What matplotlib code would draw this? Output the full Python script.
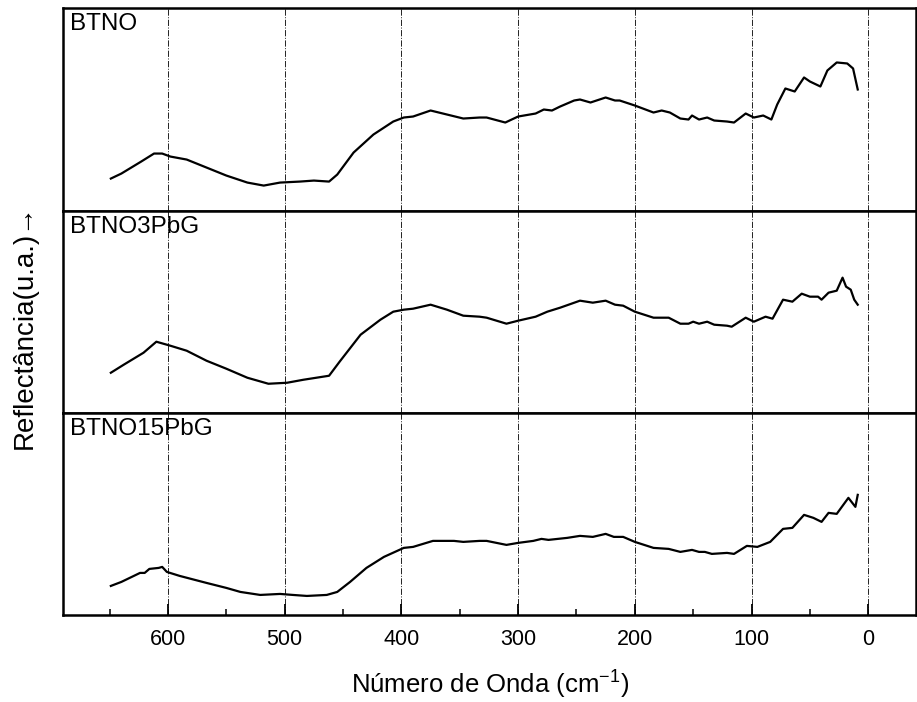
# far-IR reflectance spectra of BTNO samples, stacked panels
import numpy as np
import matplotlib
matplotlib.use("Agg")
import matplotlib.pyplot as plt
from matplotlib.ticker import MultipleLocator

plt.rcParams['font.family'] = ['Liberation Sans', 'DejaVu Sans']
plt.rcParams['mathtext.default'] = 'regular'

sample_names = ['BTNO', 'BTNO3PbG', 'BTNO15PbG']

# wavenumber (cm-1) and reflectance (arb. units)
btno_x = [649, 640, 623, 612, 605, 598, 584, 567, 550, 532, 518, 504, 487, 475, 462, 455,
          441, 424, 407, 398, 390, 375, 361, 347, 333, 327, 311, 300, 285, 278, 271, 264,
          252, 247, 238, 225, 217, 213, 200, 184, 177, 170, 161, 154, 151, 145, 138, 132,
          121, 115, 105, 98, 90, 83, 78, 71, 63, 55, 50, 41, 35, 27, 18, 13, 9]
btno_y = [32, 37, 49, 57, 57, 54, 51, 43, 35, 28, 25, 28, 29, 30, 29, 36,
          58, 76, 89, 93, 94, 100, 96, 92, 93, 93, 88, 94, 97, 101, 100, 104,
          110, 111, 108, 113, 110, 110, 105, 98, 100, 98, 92, 91, 95, 91, 93, 90,
          89, 88, 97, 93, 95, 91, 106, 122, 119, 133, 129, 124, 140, 148, 147, 142, 121]

btno3_x = [649, 638, 621, 610, 598, 584, 567, 550, 532, 514, 498, 484, 473, 462, 453, 435,
           418, 407, 398, 390, 375, 361, 347, 333, 327, 310, 300, 285, 275, 264, 247, 236,
           225, 217, 210, 200, 184, 171, 161, 154, 150, 145, 138, 132, 121, 117, 105, 98,
           88, 82, 73, 65, 57, 50, 43, 40, 34, 27, 22, 19, 15, 12, 9]
btno3_y = [40, 48, 60, 71, 67, 62, 52, 44, 35, 29, 30, 33, 35, 37, 51, 78,
           93, 101, 103, 104, 108, 103, 97, 96, 95, 89, 92, 96, 101, 105, 112, 110,
           112, 108, 107, 101, 95, 95, 89, 89, 91, 89, 91, 88, 87, 86, 95, 91,
           96, 94, 113, 111, 119, 116, 116, 113, 120, 122, 135, 126, 123, 113, 108]

btno15_x = [649, 640, 624, 620, 616, 608, 605, 601, 590, 567, 550, 538, 521, 504, 493, 481,
            464, 455, 444, 430, 415, 398, 390, 373, 355, 347, 333, 327, 310, 300, 287, 280,
            274, 258, 247, 236, 225, 218, 210, 200, 184, 171, 161, 151, 145, 140, 134, 121,
            115, 104, 95, 84, 73, 65, 55, 47, 40, 34, 27, 17, 11, 9]
btno15_y = [29, 33, 42, 42, 46, 47, 48, 43, 39, 32, 27, 23, 20, 21, 20, 19,
            20, 23, 33, 47, 58, 67, 68, 74, 74, 73, 74, 74, 70, 72, 74, 76,
            75, 77, 79, 78, 81, 78, 78, 73, 67, 66, 63, 65, 63, 63, 61, 62,
            61, 69, 68, 73, 86, 87, 100, 97, 93, 102, 101, 117, 108, 120]

spectra = [(btno_x, btno_y), (btno3_x, btno3_y), (btno15_x, btno15_y)]

fig = plt.figure(figsize=(9.17, 7.02), dpi=100)
gs = fig.add_gridspec(3, 1, left=0.0687, right=0.999, top=0.988, bottom=0.124, hspace=0)
axes = [fig.add_subplot(gs[i]) for i in range(3)]

for i, ax in enumerate(axes):
    x, y = spectra[i]
    ax.plot(x, y, color='black', lw=1.6)
    ax.set_xlim(690, -41)
    ax.set_ylim(0, 202)
    ax.xaxis.set_major_locator(MultipleLocator(100))
    ax.xaxis.set_minor_locator(MultipleLocator(50))
    ax.grid(axis='x', which='major', linestyle='-.', color='#222222', lw=0.7)
    ax.set_yticks([])
    for sp in ax.spines.values():
        sp.set_linewidth(1.8)
    ax.text(0.008, 0.975, sample_names[i], transform=ax.transAxes, ha='left', va='top',
            fontsize=17.5)
    if i < 2:
        ax.tick_params(axis='x', which='both', bottom=False, labelbottom=False)
    else:
        ax.tick_params(axis='x', which='major', direction='in', length=8, width=1.3,
                       labelsize=15.5, pad=10)
        ax.tick_params(axis='x', which='minor', direction='in', length=4, width=1.1)
        ax.set_xlabel('Número de Onda (cm$^{-1}$)', fontsize=18.5, labelpad=14)

fig.text(0.027, 0.535, 'Reflectância(u.a.)→', rotation=90, ha='center', va='center',
         fontsize=20)

plt.savefig('out.png', dpi=100)
